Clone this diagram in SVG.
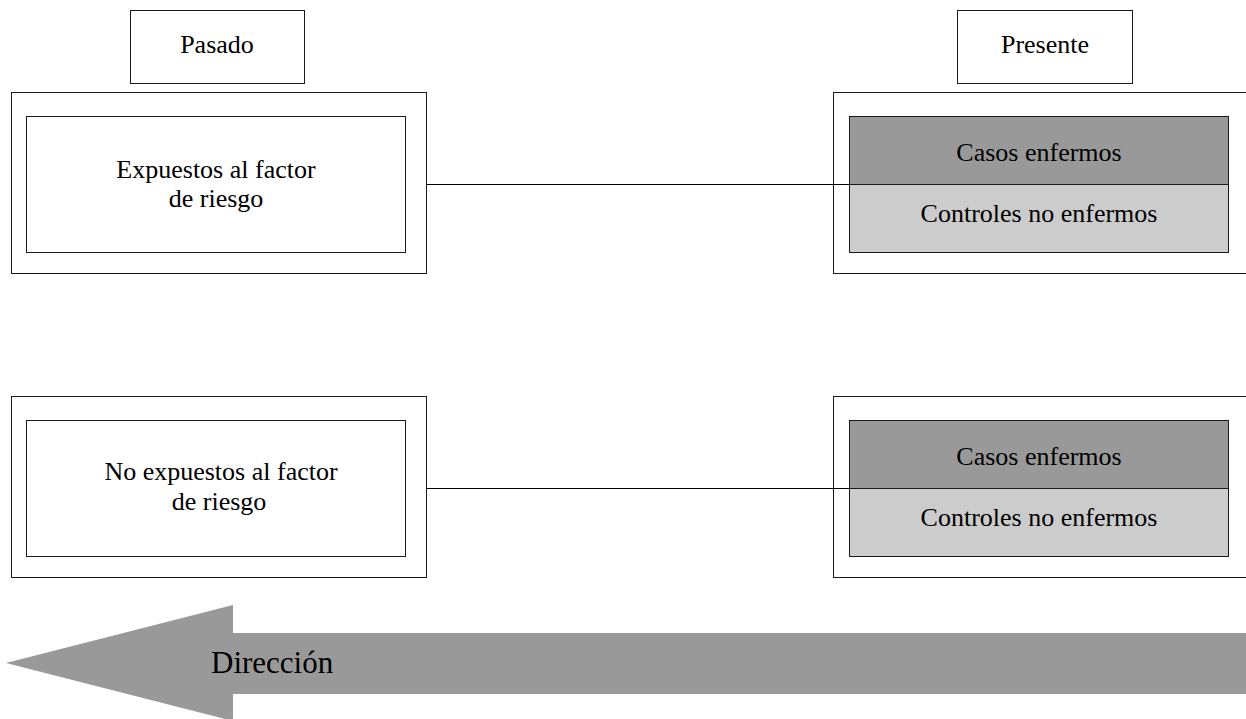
<svg xmlns="http://www.w3.org/2000/svg" width="1246" height="719" viewBox="0 0 1246 719">
  <style>
    .box { fill: #ffffff; stroke: #1a1a1a; stroke-width: 1; }
    .case { fill: #999999; stroke: #1a1a1a; stroke-width: 1; }
    .ctrl { fill: #cccccc; stroke: #1a1a1a; stroke-width: 1; }
    .link { stroke: #000000; stroke-width: 1; fill: none; }
    .lbl { font-family: "Liberation Serif", "Times New Roman", serif; font-size: 26px; fill: #000000; text-anchor: middle; }
    .big { font-family: "Liberation Serif", "Times New Roman", serif; font-size: 31px; fill: #000000; }
  </style>
  <rect width="1246" height="719" fill="#ffffff"/>

  <!-- time labels -->
  <g id="pasado">
    <rect class="box" x="130.5" y="10.5" width="174" height="73"/>
    <text class="lbl" x="217" y="53">Pasado</text>
  </g>
  <g id="presente">
    <rect class="box" x="957.5" y="10.5" width="175" height="73"/>
    <text class="lbl" x="1045" y="53">Presente</text>
  </g>

  <!-- exposure groups -->
  <g id="expuestos">
    <rect class="box" x="11.5" y="92.5" width="415" height="181"/>
    <rect class="box" x="26.5" y="116.5" width="379" height="136"/>
    <text class="lbl" x="216" y="178">Expuestos al factor</text>
    <text class="lbl" x="216" y="207">de riesgo</text>
  </g>
  <g id="no-expuestos">
    <rect class="box" x="11.5" y="396.5" width="415" height="181"/>
    <rect class="box" x="26.5" y="420.5" width="379" height="136"/>
    <text class="lbl" x="221" y="480">No expuestos al factor</text>
    <text class="lbl" x="219" y="510">de riesgo</text>
  </g>

  <!-- outcome groups -->
  <g id="resultado-1">
    <rect class="box" x="833.5" y="92.5" width="420" height="181"/>
    <rect class="case" x="849.5" y="116.5" width="379" height="68"/>
    <rect class="ctrl" x="849.5" y="184.5" width="379" height="68"/>
    <text class="lbl" x="1039" y="161">Casos enfermos</text>
    <text class="lbl" x="1039" y="222">Controles no enfermos</text>
  </g>
  <g id="resultado-2">
    <rect class="box" x="833.5" y="396.5" width="420" height="181"/>
    <rect class="case" x="849.5" y="420.5" width="379" height="68"/>
    <rect class="ctrl" x="849.5" y="488.5" width="379" height="68"/>
    <text class="lbl" x="1039" y="465">Casos enfermos</text>
    <text class="lbl" x="1039" y="526">Controles no enfermos</text>
  </g>

  <!-- connectors -->
  <g id="connectors">
    <line class="link" x1="427" y1="184.5" x2="849" y2="184.5"/>
    <line class="link" x1="427" y1="488.5" x2="849" y2="488.5"/>
  </g>

  <!-- direction arrow -->
  <g id="direccion">
    <polygon points="6,663 233,605 233,633 1246,633 1246,694 233,694 233,721" fill="#999999"/>
    <text class="big" x="211" y="673">Dirección</text>
  </g>
</svg>
